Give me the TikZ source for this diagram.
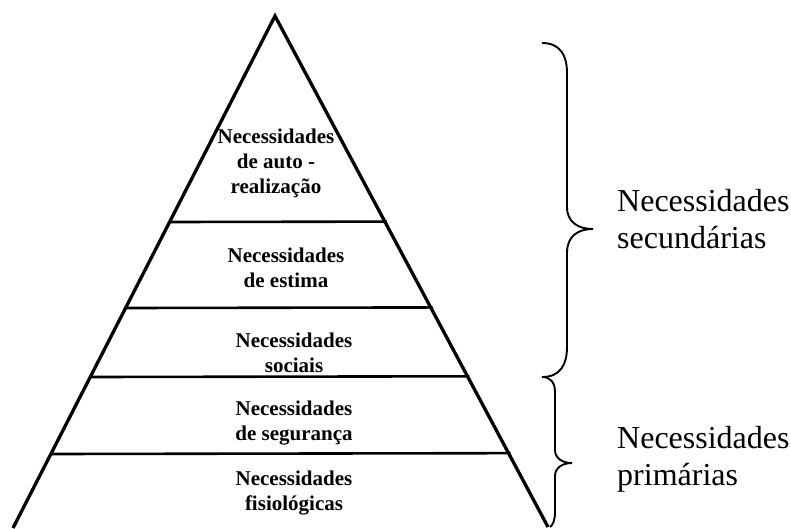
\documentclass[tikz,border=0pt]{standalone}
\usepackage{fontspec}
\setmainfont{Liberation Serif}
\usetikzlibrary{calc}
\begin{document}
\begin{tikzpicture}[x=1pt,y=-1pt,
  edge/.style={line width=3.3pt,line join=miter},
  level/.style={line width=2.6pt},
  brace/.style={line width=1.9pt},
  lvltext/.style={align=center,anchor=base,inner sep=0pt,font=\bfseries\fontsize{21}{25}\selectfont},
  sidetext/.style={align=left,anchor=base west,inner sep=0pt,font=\fontsize{32}{37}\selectfont}]
\useasboundingbox (0,0) rectangle (791,528);
% pyramid corners
\coordinate (apex) at (275,16);
\coordinate (bl) at (13,528);
\coordinate (br) at (548,527);
\draw[edge] (bl) -- (apex) -- (br);
% level lines
\foreach \y/\n in {222/a,308/b,377/c,454/d}{
  \pgfmathsetmacro{\t}{(\y-16)/512}
  \coordinate (L\n) at ($(apex)!\t!(bl)$);
  \coordinate (R\n) at ($(apex)!\t!(br)+(2,0)$);
  \draw[level] (L\n) -- (R\n);
}
% level texts (anchor = baseline of last line)
\node[lvltext] (t1) at (276,193) {Necessidades\\de auto -\\realização};
\node[lvltext] (t2) at (286,287) {Necessidades\\de estima};
\node[lvltext] (t3) at (294,372) {Necessidades\\sociais};
\node[lvltext] (t4) at (294,440) {Necessidades\\de segurança};
\node[lvltext] (t5) at (294,510) {Necessidades\\fisiológicas};
% braces
\coordinate (b1top) at (542,43);
\coordinate (b1tip) at (593,229);
\coordinate (b1bot) at (542,377);
\draw[brace] (b1top) .. controls (560,43) and (567,55) .. (567,73) -- (567,207)
  .. controls (567,222) and (578,229) .. (b1tip)
  .. controls (578,229) and (567,236) .. (567,253) -- (567,347)
  .. controls (567,365) and (560,377) .. (b1bot);
\coordinate (b2tip) at (572,463);
\coordinate (b2bot) at (550,527);
\draw[brace] (b1bot) .. controls (550,377) and (555,382) .. (555,392) -- (555,450)
  .. controls (555,458) and (562,463) .. (b2tip)
  .. controls (562,463) and (555,468) .. (555,476) -- (555,512)
  .. controls (555,520) and (553,525) .. (b2bot);
% side labels
\node[sidetext] (s1) at (617,248) {Necessidades\\secundárias};
\node[sidetext] (s2) at (617,485) {Necessidades\\primárias};
\end{tikzpicture}
\end{document}
